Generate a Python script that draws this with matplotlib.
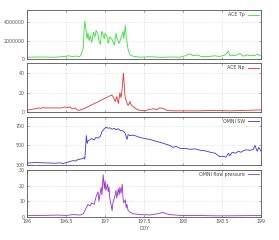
"""Four stacked solar-wind panels (ACE Tp, ACE Np, OMNI SW, OMNI flow pressure) vs DOY."""

import matplotlib

matplotlib.use("Agg")
import matplotlib.pyplot as plt

# values, x in day-of-year
tp_doy = [196.00, 196.17, 196.36, 196.49, 196.53, 196.58, 196.63, 196.67, 196.69, 196.72,
          196.73, 196.74, 196.755, 196.77, 196.78, 196.795, 196.81, 196.83, 196.85, 196.87,
          196.885, 196.91, 196.92, 196.94, 196.95, 196.96, 196.99, 197.00, 197.03, 197.04,
          197.06, 197.09, 197.12, 197.14, 197.15, 197.18, 197.21, 197.23, 197.24, 197.26,
          197.27, 197.28, 197.295, 197.32, 197.36, 197.40, 197.45, 197.58, 197.71, 197.83,
          197.96, 198.03, 198.06, 198.09, 198.13, 198.18, 198.22, 198.28, 198.35, 198.41,
          198.47, 198.54, 198.58, 198.60, 198.67, 198.73, 198.77, 198.82, 198.86, 198.92,
          198.96, 199.00]
tp_val = [0.20, 0.22, 0.20, 0.28, 0.35, 0.28, 0.32, 0.25, 0.40, 1.2,
          3.0, 4.1, 3.2, 2.2, 2.8, 2.0, 2.5, 1.8, 2.9, 2.4,
          3.1, 2.6, 2.0, 1.6, 2.6, 3.0, 2.2, 2.8, 2.3, 1.7,
          2.4, 2.1, 1.5, 2.8, 2.3, 1.7, 2.4, 3.0, 2.2, 3.6,
          2.4, 1.9, 1.0, 0.45, 0.30, 0.25, 0.20, 0.25, 0.18, 0.22,
          0.20, 0.35, 0.50, 0.55, 0.35, 0.45, 0.30, 0.25, 0.30, 0.35,
          0.28, 0.45, 0.85, 0.35, 0.40, 0.60, 0.30, 0.45, 0.35, 0.40,
          0.50, 0.30]
tp_val = [v * 1e6 for v in tp_val]

np_doy = [196.00, 196.05, 196.10, 196.15, 196.18, 196.20, 196.22, 196.45, 196.48, 196.52,
          196.55, 196.58, 196.62, 196.64, 196.67, 196.70, 196.72, 197.086, 197.11, 197.13,
          197.15, 197.17, 197.19, 197.205, 197.22, 197.235, 197.256, 197.28, 197.295, 197.32,
          197.33, 197.36, 197.42, 197.50, 197.62, 197.66, 197.70, 197.74, 197.80, 197.90,
          198.00, 198.20, 198.40, 198.60, 198.80, 199.00]
np_val = [2.0, 3.0, 3.5, 4.5, 4.0, 5.0, 4.5, 4.5, 5.5, 4.8,
          5.5, 3.5, 4.5, 2.5, 2.0, 3.0, 3.4, 17.7, 15.0, 11.0,
          16.0, 9.0, 20.0, 15.0, 25.0, 40.0, 16.0, 9.5, 7.0, 11.0,
          8.0, 5.7, 2.4, 1.6, 3.7, 2.5, 4.5, 4.0, 1.8, 1.5,
          1.5, 1.5, 2.0, 1.5, 2.0, 2.5]

sw_doy = [196.00, 196.10, 196.23, 196.36, 196.42, 196.46, 196.50, 196.55, 196.59, 196.62,
          196.65, 196.68, 196.71, 196.73, 196.74, 196.76, 196.77, 196.78, 196.81, 196.83,
          196.86, 196.88, 196.91, 196.94, 196.96, 196.99, 197.01, 197.04, 197.06, 197.09,
          197.12, 197.14, 197.17, 197.19, 197.22, 197.24, 197.26, 197.28, 197.295, 197.32,
          197.36, 197.40, 197.45, 197.51, 197.58, 197.64, 197.71, 197.77, 197.83, 197.87,
          197.91, 197.96, 198.03, 198.09, 198.15, 198.22, 198.28, 198.35, 198.41, 198.45,
          198.47, 198.51, 198.55, 198.58, 198.60, 198.63, 198.67, 198.71, 198.74, 198.78,
          198.82, 198.86, 198.90, 198.92, 198.95, 198.97, 199.00]
sw_val = [320, 325, 322, 318, 322, 315, 325, 335, 345, 340,
          355, 360, 365, 375, 360, 600, 520, 545, 560, 570,
          555, 580, 575, 595, 640, 670, 685, 675, 680, 665,
          675, 660, 670, 655, 650, 640, 620, 560, 610, 600,
          605, 595, 580, 570, 560, 545, 530, 515, 500, 480,
          490, 470, 468, 460, 465, 450, 445, 430, 420, 395,
          385, 390, 380, 420, 395, 430, 420, 440, 430, 450,
          455, 450, 460, 500, 440, 480, 440]

pr_doy = [196.00, 196.20, 196.40, 196.50, 196.60, 196.68, 196.72, 196.76, 196.78, 196.81,
          196.83, 196.86, 196.885, 196.91, 196.92, 196.95, 196.96, 196.975, 196.99, 197.00,
          197.01, 197.03, 197.04, 197.05, 197.06, 197.08, 197.09, 197.10, 197.13, 197.14,
          197.15, 197.17, 197.18, 197.19, 197.205, 197.22, 197.23, 197.24, 197.26, 197.27,
          197.28, 197.295, 197.32, 197.36, 197.40, 197.45, 197.58, 197.67, 197.71, 197.74,
          197.78, 197.83, 197.96, 198.22, 198.47, 198.73, 199.00]
pr_val = [1.0, 1.0, 1.2, 1.0, 1.5, 1.2, 2.0, 6.0, 8.0, 7.0,
          9.0, 8.0, 13.0, 16.0, 10.0, 19.0, 14.0, 27.0, 18.0, 23.0,
          17.0, 21.0, 16.0, 19.0, 12.0, 7.0, 4.0, 9.0, 14.0, 17.0,
          12.0, 18.0, 14.0, 19.0, 15.0, 21.0, 12.0, 9.0, 11.0, 6.0,
          8.0, 4.0, 3.0, 2.0, 1.8, 1.5, 1.3, 2.0, 2.5, 3.0,
          2.0, 1.5, 1.0, 0.9, 0.7, 0.8, 0.9]

x_ticks = [196, 196.5, 197, 197.5, 198, 198.5, 199]
x_labels = ["196", "196.5", "197", "197.5", "198", "198.5", "199"]

panels = [
    ("ACE Tp", tp_doy, tp_val, "#33e033", (0, 5.3e6), [0, 2000000, 4000000]),
    ("ACE Np", np_doy, np_val, "#e83030", (0, 50), [0, 20, 40]),
    ("OMNI SW", sw_doy, sw_val, "#3838d8", (300, 790), [300, 500, 700]),
    ("OMNI flow pressure", pr_doy, pr_val, "#9a2fd0", (0, 30), [0, 10, 20, 30]),
]

# axes boxes in figure fractions (left, bottom, width, height)
boxes = [
    (0.097, 0.754, 0.839, 0.204),
    (0.097, 0.532, 0.839, 0.204),
    (0.097, 0.3125, 0.839, 0.200),
    (0.097, 0.096, 0.839, 0.196),
]

txt = "#555555"
fig = plt.figure(figsize=(2.79, 2.40), dpi=100)
for i, ((name, xs, ys, col, ylim, yt), box) in enumerate(zip(panels, boxes)):
    ax = fig.add_axes(box)
    ax.plot(xs, ys, color=col, lw=0.6, label=name)
    ax.set_xlim(196, 199)
    ax.set_ylim(*ylim)
    ax.set_xticks(x_ticks)
    ax.set_yticks(yt)
    ax.set_yticklabels([str(v) for v in yt])
    ax.grid(True, color="#b8b8b8", lw=0.4, ls=(0, (1, 2)))
    ax.tick_params(direction="in", length=1.5, width=0.4, labelsize=3.4, pad=1.5,
                   top=True, right=True, colors="#666666", labelcolor=txt)
    for s in ax.spines.values():
        s.set_linewidth(0.6)
        s.set_color("#555555")
    if i == 3:
        ax.set_xticklabels(x_labels)
        ax.set_xlabel("DOY", fontsize=3.4, labelpad=1.5, color=txt)
    else:
        ax.set_xticklabels([])
    leg = ax.legend(loc="upper right", frameon=False, markerfirst=False, fontsize=3.4,
                    handlelength=2.4, handletextpad=0.6, borderaxespad=0.25, borderpad=0.2)
    for t in leg.get_texts():
        t.set_color("#444444")

fig.savefig("out.png", dpi=100)
